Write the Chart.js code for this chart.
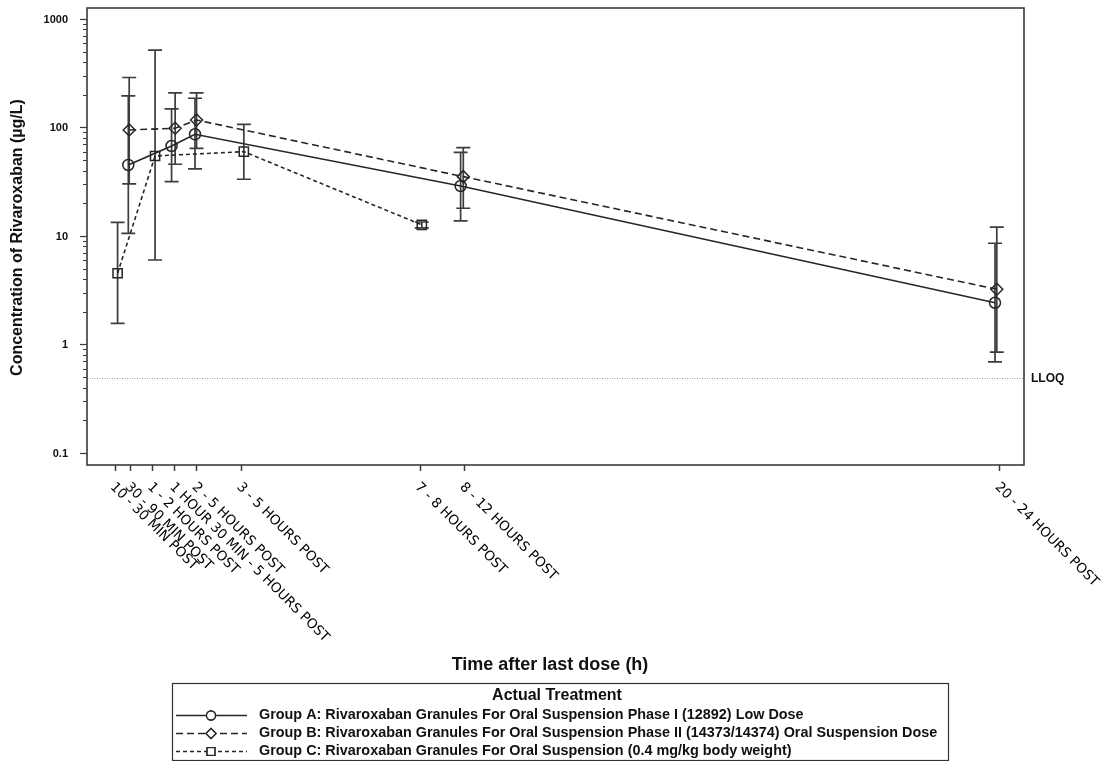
<!DOCTYPE html>
<html>
<head>
<meta charset="utf-8">
<script src="https://cdn.jsdelivr.net/npm/chart.js@4/dist/chart.umd.min.js"></script>
<style>
  html, body { margin: 0; padding: 0; background: #ffffff; }
  #wrap { width: 1102px; height: 761px; position: relative; }
</style>
</head>
<body>
<div id="wrap"><canvas id="pkChart" width="1102" height="761"></canvas></div>
<script>
// Nominal sampling windows (hours after last dose) and their labels
const tickHours = [0.167, 0.5, 1, 1.5, 2, 3, 7, 8, 20];
const tickLabels = [
  '10 - 30 MIN POST',
  '30 - 90 MIN POST',
  '1 - 2 HOURS POST',
  '1 HOUR 30 MIN - 5 HOURS POST',
  '2 - 5 HOURS POST',
  '3 - 5 HOURS POST',
  '7 - 8 HOURS POST',
  '8 - 12 HOURS POST',
  '20 - 24 HOURS POST'
];

// Y axis decades
const yMajorTicks = [0.1, 1, 10, 100, 1000];

// Lower limit of quantification (µg/L)
const lloq = 0.5;

// Group A: time (h), geometric mean and error-bar limits (µg/L)
const groupAHours = [0.46, 1.43, 1.955, 7.91, 19.89];
const groupAMean  = [45.6, 68.2, 87.5, 29.2, 2.45];
const groupALow   = [10.7, 32.0, 41.9, 13.9, 0.70];
const groupAHigh  = [198, 150, 188, 59.7, 8.66];

// Group B
const groupBHours = [0.48, 1.51, 1.99, 7.97, 19.93];
const groupBMean  = [95.9, 99.4, 118.5, 35.6, 3.26];
const groupBLow   = [30.5, 46.3, 65.0, 18.2, 0.86];
const groupBHigh  = [292, 211, 211, 65.8, 12.2];

// Group C
const groupCHours = [0.22, 1.06, 3.05, 7.04];
const groupCMean  = [4.58, 55.2, 60.5, 12.8];
const groupCLow   = [1.58, 6.07, 33.7, 12.0];
const groupCHigh  = [13.5, 523, 108, 13.6];

const seriesNames = [
  'Group A: Rivaroxaban Granules For Oral Suspension Phase I (12892) Low Dose',
  'Group B: Rivaroxaban Granules For Oral Suspension Phase II (14373/14374) Oral Suspension Dose',
  'Group C: Rivaroxaban Granules For Oral Suspension (0.4 mg/kg body weight)'
];

// Minor log ticks: 2..9 within each decade
const yTickValues = [];
yMajorTicks.forEach((d, i) => {
  yTickValues.push(d);
  if (i < yMajorTicks.length - 1) {
    for (let m = 2; m <= 9; m++) yTickValues.push(+(m * d).toPrecision(3));
  }
});

const INK = '#262626';
const BAR = '#3d3d3d';

const groups = [
  { hours: groupAHours, mean: groupAMean, low: groupALow, high: groupAHigh,
    dash: [], style: 'circle', radius: 5.5 },
  { hours: groupBHours, mean: groupBMean, low: groupBLow, high: groupBHigh,
    dash: [7, 4], style: 'rectRot', radius: 6 },
  { hours: groupCHours, mean: groupCMean, low: groupCLow, high: groupCHigh,
    dash: [4, 3], style: 'rect', radius: 6.5 }
];

const datasets = groups.map((g, i) => ({
  label: seriesNames[i],
  data: g.hours.map((h, j) => ({ x: h, y: g.mean[j] })),
  borderColor: INK,
  borderWidth: 1.6,
  borderDash: g.dash,
  tension: 0,
  fill: false,
  pointStyle: g.style,
  pointRadius: g.radius,
  pointHoverRadius: g.radius,
  pointBorderWidth: 1.5,
  pointBorderColor: INK,
  pointBackgroundColor: 'rgba(0,0,0,0)'
}));

// Error bars, LLOQ reference, frame, rotated tick labels, titles and legend
const decorations = {
  id: 'decorations',
  beforeDatasetsDraw(chart) {
    const { ctx, chartArea: a, scales: { x, y } } = chart;
    ctx.save();
    // LLOQ reference line
    const yl = Math.round(y.getPixelForValue(lloq)) + 0.5;
    ctx.strokeStyle = '#9a9a9a';
    ctx.lineWidth = 1;
    ctx.setLineDash([1, 1.5]);
    ctx.beginPath();
    ctx.moveTo(a.left, yl);
    ctx.lineTo(a.right, yl);
    ctx.stroke();
    ctx.setLineDash([]);
    // error bars
    ctx.strokeStyle = BAR;
    ctx.lineWidth = 1.7;
    const cap = 7;
    groups.forEach(g => {
      g.hours.forEach((h, j) => {
        const px = x.getPixelForValue(h);
        const lo = y.getPixelForValue(g.low[j]);
        const hi = y.getPixelForValue(g.high[j]);
        ctx.beginPath();
        ctx.moveTo(px, lo); ctx.lineTo(px, hi);
        ctx.moveTo(px - cap, lo); ctx.lineTo(px + cap, lo);
        ctx.moveTo(px - cap, hi); ctx.lineTo(px + cap, hi);
        ctx.stroke();
      });
    });
    ctx.restore();
  },
  afterDraw(chart) {
    const { ctx, chartArea: a, scales: { x, y } } = chart;
    ctx.save();
    // plot frame
    ctx.strokeStyle = '#3a3a3a';
    ctx.lineWidth = 1.6;
    ctx.strokeRect(a.left, a.top, a.right - a.left, a.bottom - a.top);

    // LLOQ label
    ctx.fillStyle = '#111';
    ctx.font = 'bold 12px "Liberation Sans", Arial, sans-serif';
    ctx.textAlign = 'left';
    ctx.textBaseline = 'middle';
    ctx.fillText('LLOQ', a.right + 7, y.getPixelForValue(lloq) + 1);

    // rotated x tick labels
    ctx.fillStyle = '#000';
    ctx.font = '13.5px "DejaVu Sans", Verdana, sans-serif';
    ctx.textBaseline = 'top';
    tickHours.forEach((h, i) => {
      const px = x.getPixelForValue(h);
      ctx.save();
      ctx.translate(px - 1, a.bottom + 18);
      ctx.rotate(Math.PI / 4);
      ctx.fillText(tickLabels[i], 0, -4);
      ctx.restore();
    });

    // y axis title
    ctx.fillStyle = '#111';
    ctx.save();
    ctx.translate(18, (a.top + a.bottom) / 2 + 1);
    ctx.rotate(-Math.PI / 2);
    ctx.font = 'bold 16px "Liberation Sans", Arial, sans-serif';
    ctx.textAlign = 'center';
    ctx.textBaseline = 'middle';
    ctx.fillText('Concentration of Rivaroxaban (µg/L)', 0, 0);
    ctx.restore();

    // x axis title
    ctx.font = 'bold 18px "Liberation Sans", Arial, sans-serif';
    ctx.textAlign = 'center';
    ctx.textBaseline = 'middle';
    ctx.fillText('Time after last dose (h)', 550, 665);

    // legend
    const L = { left: 172, top: 683, right: 948, bottom: 760 };
    ctx.strokeStyle = '#333';
    ctx.lineWidth = 1.2;
    ctx.strokeRect(L.left + 0.5, L.top + 0.5, L.right - L.left, L.bottom - L.top);
    ctx.font = 'bold 16px "Liberation Sans", Arial, sans-serif';
    ctx.fillText('Actual Treatment', 557, 696);
    const rowY = [715, 733, 751];
    groups.forEach((g, i) => {
      const ry = rowY[i] + 0.5;
      ctx.strokeStyle = INK;
      ctx.lineWidth = 1.4;
      ctx.setLineDash(g.dash);
      ctx.beginPath();
      ctx.moveTo(176, ry);
      ctx.lineTo(247, ry);
      ctx.stroke();
      ctx.setLineDash([]);
      ctx.fillStyle = '#ffffff';
      Chart.helpers.drawPoint(ctx, {
        pointStyle: g.style, radius: g.radius - 1, rotation: 0, borderWidth: 1.3
      }, 211, ry);
      ctx.fill();
      ctx.stroke();
      ctx.fillStyle = '#111';
      ctx.font = 'bold 14.4px "Liberation Sans", Arial, sans-serif';
      ctx.textAlign = 'left';
      ctx.fillText(seriesNames[i], 259, ry);
    });
    ctx.restore();
  }
};

new Chart(document.getElementById('pkChart'), {
  type: 'line',
  data: { datasets },
  options: {
    responsive: false,
    animation: false,
    events: [],
    layout: { padding: { top: 8, right: 78, left: 0, bottom: 0 } },
    plugins: { legend: { display: false }, tooltip: { enabled: false }, title: { display: false } },
    scales: {
      x: {
        type: 'linear',
        min: -0.466,
        max: 20.54,
        bounds: 'data',
        afterBuildTicks: s => { s.ticks = tickHours.map(v => ({ value: v })); },
        afterFit: s => { s.height = 296; s.paddingLeft = 0; s.paddingRight = 0; },
        ticks: { autoSkip: false, maxRotation: 0, callback: () => '' },
        grid: { drawOnChartArea: false, tickLength: 6, tickColor: '#3a3a3a', tickWidth: 1.5 },
        border: { display: false }
      },
      y: {
        type: 'logarithmic',
        min: 0.0783,
        max: 1276,
        bounds: 'data',
        afterBuildTicks: s => { s.ticks = yTickValues.map(v => ({ value: v })); },
        afterFit: s => { s.width = 87; s.paddingTop = 0; s.paddingBottom = 0; },
        ticks: {
          autoSkip: false,
          padding: 12,
          color: '#111',
          font: { family: '"Liberation Sans", Arial, sans-serif', size: 11, weight: 'bold' },
          callback: v => (yMajorTicks.includes(v) ? String(v) : '')
        },
        grid: {
          drawOnChartArea: false,
          tickLength: 7,
          tickColor: '#3a3a3a',
          tickWidth: 1.2,
          tickBorderDash: ctx => (ctx.tick && yMajorTicks.includes(ctx.tick.value) ? [] : [0, 3, 4, 100])
        },
        border: { display: false }
      }
    }
  },
  plugins: [decorations]
});
</script>
</body>
</html>
